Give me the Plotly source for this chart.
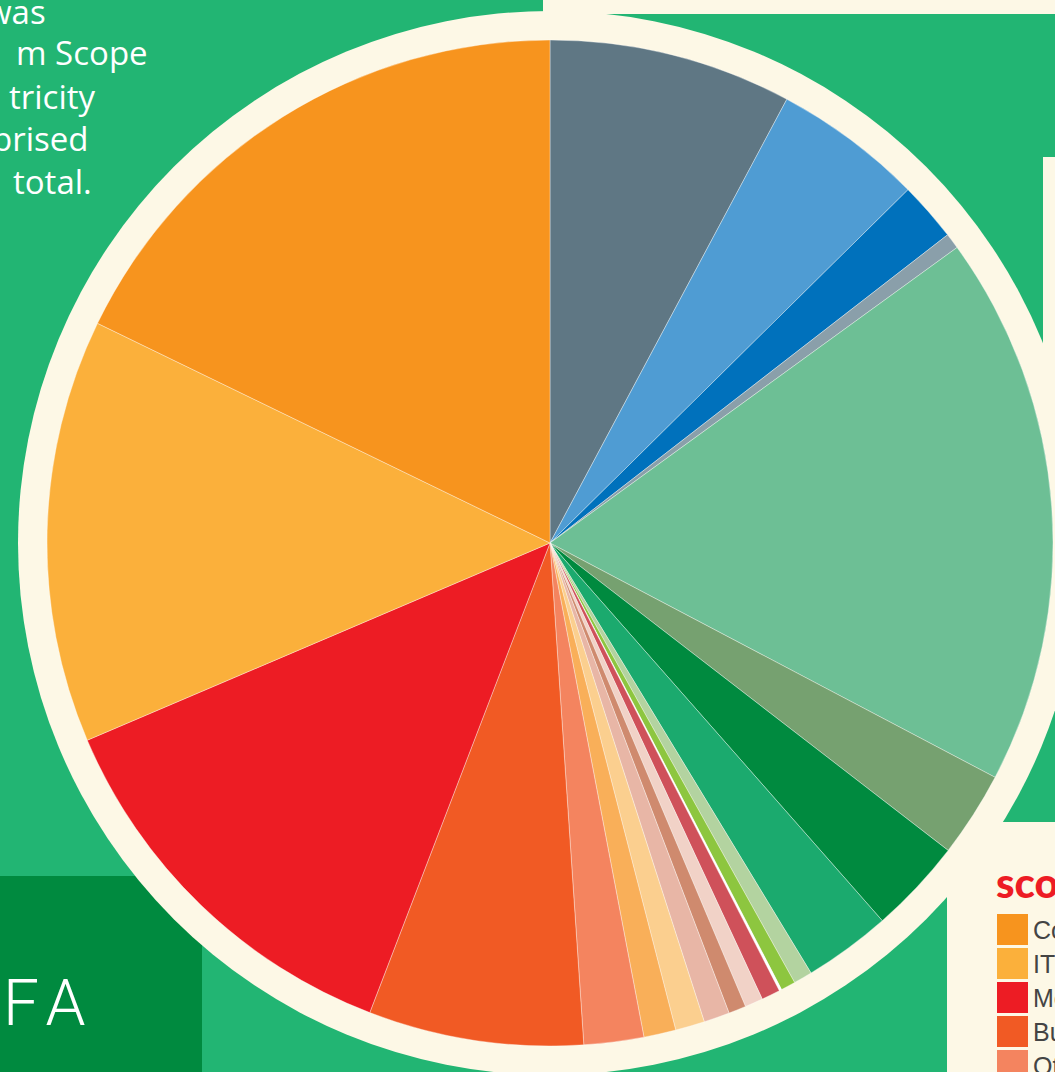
import plotly.graph_objects as go

# ---------------- data (percent shares, clockwise from 12 o'clock) ----------------
labels = [
    "Slate", "Light blue", "Blue", "Grey blue", "Light green", "Olive",
    "Dark green", "Mid green", "Sage", "Lime", "Gap", "Rose red",
    "Pale pink", "Tan", "Pink", "Pale yellow", "Light orange",
    "Ot", "Bu", "Me", "IT", "Co",
]
values = [
    7.8, 4.8, 1.9, 0.5, 17.7, 2.75,
    3.05, 2.8, 0.6, 0.47, 0.08, 0.6,
    0.58, 0.56, 0.83, 0.94, 1.03,
    1.92, 6.9, 12.75, 13.6, 17.8,
]
colors = [
    "#5F7784", "#4F9CD3", "#0071BC", "#8A9FAA", "#6DBF95", "#76A170",
    "#008A3F", "#1BAA6E", "#B3D3A0", "#8DC63F", "#FFFFFF", "#CF515A",
    "#F1D2C7", "#CF8A6E", "#E8B6A6", "#FBCF8F", "#F9AF59",
    "#F4845F", "#F15A24", "#ED1C24", "#FBB03B", "#F7941E",
]
legend_title = "scope"
intro_lines = ["was", "m Scope", "tricity", "prised", "total."]
corner_text = "F\u200aA"

# ---------------- page geometry ----------------
W, H = 1055, 1072
BG = "#22B573"
CREAM = "#FDF8E6"


def X(p):
    return p / W


def Y(p):
    return 1 - p / H


cx, cy, r = 550, 543, 503
ring = 532

fig = go.Figure()
fig.add_trace(go.Pie(
    labels=labels, values=values, sort=False, direction="clockwise", rotation=0,
    marker=dict(colors=colors, line=dict(color="rgba(255,255,255,0.45)", width=0.8)),
    textinfo="none", hoverinfo="label+percent", showlegend=False,
    domain=dict(x=[X(cx - r), X(cx + r)], y=[Y(cy + r), Y(cy - r)]),
))

shapes = []


def rect(x0, y0, x1, y1, color):
    shapes.append(dict(type="rect", xref="paper", yref="paper", layer="below",
                       x0=X(x0), x1=X(x1), y0=Y(y1), y1=Y(y0),
                       fillcolor=color, line=dict(width=0)))


rect(0, 876, 202, 1080, "#008A3F")          # dark green corner box
rect(543, -5, 1060, 14, CREAM)              # top cream bar
rect(1043, 157, 1060, 520, CREAM)           # right cream strip
rect(947, 822, 1060, 1080, CREAM)           # legend panel
shapes.append(dict(type="circle", xref="paper", yref="paper", layer="below",
                   x0=X(cx - ring), x1=X(cx + ring), y0=Y(cy + ring), y1=Y(cy - ring),
                   fillcolor=CREAM, line=dict(width=0)))

annotations = []

# intro paragraph fragments (clipped at the left page edge)
intro_right = [48, 150, 97, 90, 94]
intro_mid = [12, 53, 96, 138, 181]
for t, xr, ym in zip(intro_lines, intro_right, intro_mid):
    annotations.append(dict(text=t, xref="paper", yref="paper", x=X(xr), y=Y(ym),
                            xanchor="right", yanchor="middle", showarrow=False,
                            font=dict(family="Open Sans", size=33, color="white")))

# corner label
annotations.append(dict(text=corner_text, xref="paper", yref="paper", x=X(1), y=Y(1003),
                        xanchor="left", yanchor="middle", showarrow=False,
                        font=dict(family="Roboto", size=64, color="white", weight=300)))

# legend
annotations.append(dict(text=legend_title, xref="paper", yref="paper", x=X(994), y=Y(882),
                        xanchor="left", yanchor="middle", showarrow=False,
                        font=dict(family="Lato", size=42, color="#ED1C24", weight=900)))
row0, pitch, sq = 914, 34, 31
for i, (lab, col) in enumerate(zip(labels[::-1], colors[::-1])):
    y0 = row0 + i * pitch
    if y0 > H:
        break
    rect(997, y0, 997 + sq, y0 + sq, col)
    annotations.append(dict(text=lab, xref="paper", yref="paper", x=X(1031), y=Y(y0 + sq / 2),
                            xanchor="left", yanchor="middle", showarrow=False,
                            font=dict(family="Liberation Sans", size=25, color="#444444")))

fig.update_layout(
    width=W, height=H, margin=dict(l=0, r=0, t=0, b=0),
    paper_bgcolor=BG, plot_bgcolor=BG,
    shapes=shapes, annotations=annotations, showlegend=False,
)

fig.write_html("out.html", config={"displayModeBar": False},
               post_script="document.body.style.margin='0';document.body.style.overflow='hidden';")
